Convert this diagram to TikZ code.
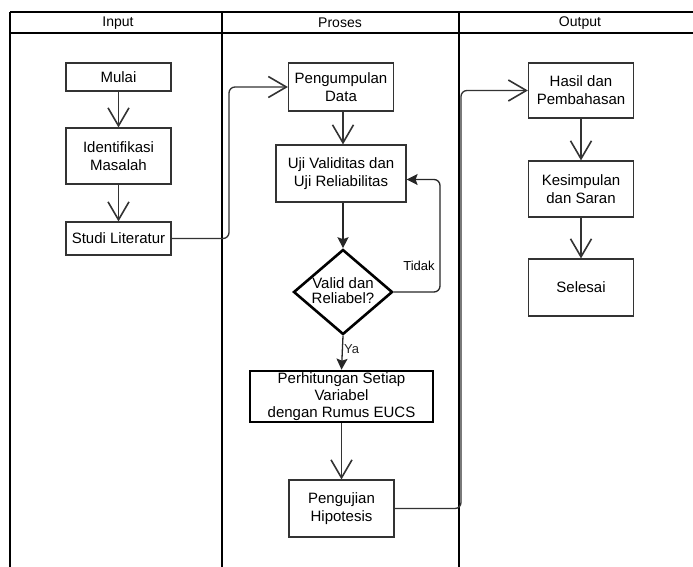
\documentclass[tikz,border=0pt]{standalone}
\usepackage{fontspec}
\setmainfont{Liberation Sans}
\usetikzlibrary{positioning,arrows.meta,shapes.geometric}

\begin{document}
\begin{tikzpicture}[
    x=1pt, y=-1pt,
    lajur/.style={line width=2.6pt},
    judul/.style={font=\fontsize{14}{16}\selectfont},
    kotak/.style={draw=black!80, line width=1.2pt, align=center,
                  minimum width=105pt, inner sep=0pt,
                  font=\fontsize{15}{18}\selectfont},
    tebal/.style={kotak, draw=black, line width=2.6pt},
    panah/.style={-{Straight Barb[length=18pt,width=21pt,line width=1.6pt]},
                  line width=1.3pt, black!80},
    panahisi/.style={-{Stealth[length=11pt,width=11pt,inset=2pt]},
                     line width=1.3pt, black!85},
    ket/.style={font=\fontsize{13}{15}\selectfont, inner sep=1pt},
  ]
  \useasboundingbox (0,0) rectangle (693,567);

  % Lajur
  \draw[lajur] (10,12) -- (693,12);
  \draw[lajur] (10,33) -- (693,33);
  \draw[lajur] (10,12) -- (10,567);
  \draw[lajur] (222,12) -- (222,567);
  \draw[lajur] (459,12) -- (459,567);
  \node[judul] (jinput) at (118,23) {Input};
  \node[judul] (jproses) at (340,23) {Proses};
  \node[judul] (joutput) at (580,23) {Output};

  % Input
  \node[kotak, minimum height=28pt] (mulai) at (118.5,77) {Mulai};
  \node[kotak, minimum height=56pt] (identifikasi) at (118.5,156) {Identifikasi\\Masalah};
  \node[kotak, minimum height=33pt] (studi) at (118.5,238.5) {Studi Literatur};
  \draw[panah] (mulai) -- (identifikasi);
  \draw[panah] (identifikasi) -- (studi);

  % Proses
  \node[kotak, minimum height=48pt] (kumpul) at (341,87) {Pengumpulan\\Data};
  \node[kotak, minimum width=130pt, minimum height=57pt] (uji) at (341,173.5)
    {Uji Validitas dan\\Uji Reliabilitas};
  \node[tebal, shape=diamond, minimum width=99pt, minimum height=85pt] (cek) at (343,292) {};
  \node[font=\fontsize{15}{15}\selectfont, align=center] (cektxt) at (343,291) {Valid dan\\Reliabel?};
  \node[tebal, minimum width=183pt, minimum height=51pt, font=\fontsize{15}{17}\selectfont]
    (hitung) at (341.5,396.5) {Perhitungan Setiap\\Variabel\\dengan Rumus EUCS};
  \node[kotak, minimum height=57pt] (hipotesis) at (341.5,508.5) {Pengujian\\Hipotesis};
  \draw[panah] (cek.north |- kumpul.south) -- (cek.north |- uji.north);
  \draw[panahisi] (cek.north |- uji.south) -- (cek.north);
  \draw[panahisi] (cek.south) -- node[ket, right, pos=0.4] (ya) {Ya} (hitung.north);
  \draw[panah] (hitung) -- (hipotesis);
  \coordinate (belok3) at (440,240);
  \draw[panahisi, rounded corners=6pt] (cek.east) -| (belok3) |- ([yshift=-6pt]uji.east);
  \node[ket] (tidak) at (419,266) {Tidak};

  % Output
  \node[kotak, minimum height=55pt] (hasil) at (581,90.5) {Hasil dan\\Pembahasan};
  \node[kotak, minimum height=56pt] (simpul) at (581,189) {Kesimpulan\\dan Saran};
  \node[kotak, minimum height=57pt] (selesai) at (581,287.5) {Selesai};
  \draw[panah] (hasil) -- (simpul);
  \draw[panah] (simpul) -- (selesai);

  % Antar lajur
  \coordinate (belok1) at (229,160);
  \draw[panah, rounded corners=6pt] (studi.east) -| (belok1) |- (kumpul.west);
  \coordinate (belok2) at (461,300);
  \draw[panah, rounded corners=6pt] (hipotesis.east) -| (belok2) |- (hasil.west);
\end{tikzpicture}
\end{document}
